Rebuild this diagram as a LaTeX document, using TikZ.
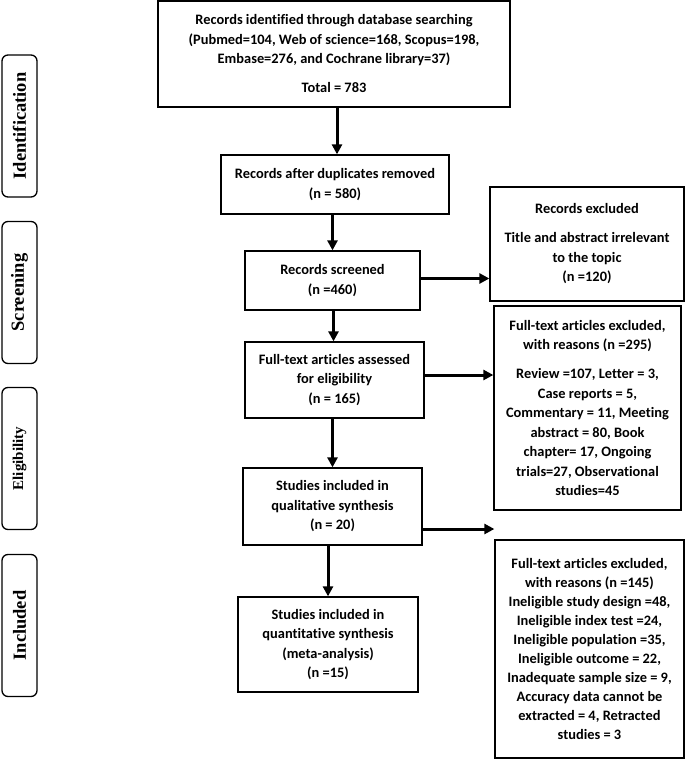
\documentclass[tikz,border=0pt]{standalone}
\usepackage{fontspec}
\setmainfont{Carlito}[RawFeature={-liga;-clig;-calt;-dlig;-rlig}]
\newfontfamily\sidefont{Liberation Serif}
\usetikzlibrary{arrows.meta}
\begin{document}
\begin{tikzpicture}[x=1pt,y=-1pt,
  box/.style={draw, line width=1.3pt, inner sep=0pt, align=center,
    font=\bfseries\fontsize{14.4}{19.5}\selectfont},
  side/.style={draw, line width=1.3pt, rounded corners=6pt, inner sep=0pt,
    rotate=90, minimum width=142pt, minimum height=35pt,
    font=\sidefont\bfseries\fontsize{18.5}{20}\selectfont},
  arr/.style={line width=3pt, -{Triangle[length=10pt,width=10pt]}}]
\useasboundingbox (0,0) rectangle (685,759);

% side labels
\node[side] (sid) at (19.5,126) {Identification};
\node[side] (ssc) at (19.5,292.5) {Screening};
\node[side, font=\sidefont\bfseries\fontsize{15}{17}\selectfont] (sel) at (19.5,458.5) {Eligibility};
\node[side] (sin) at (19.5,625.5) {Included};

% main boxes
\node[box, minimum width=352pt, minimum height=106pt] (b1) at (334,54)
  {Records identified through database searching\\
   (Pubmed=104, Web of science=168, Scopus=198,\\
   Embase=276, and Cochrane library=37)\\[9.5pt]
   Total = 783};
\node[box, minimum width=228pt, minimum height=59pt] (b2) at (335,184.5)
  {Records after duplicates removed\\(n = 580)};
\node[box, minimum width=175pt, minimum height=59pt] (b3) at (332.5,280.5)
  {Records screened\\(n =460)};
\node[box, minimum width=179pt, minimum height=76pt] (b4) at (334.5,380)
  {Full-text articles assessed\\for eligibility\\(n = 165)};
\node[box, minimum width=179pt, minimum height=77pt] (b5) at (332.5,506.5)
  {Studies included in\\qualitative synthesis\\(n = 20)};
\node[box, minimum width=180pt, minimum height=95pt] (b6) at (328,644.5)
  {Studies included in\\quantitative synthesis\\(meta-analysis)\\(n =15)};

% exclusion boxes
\node[box, minimum width=194pt, minimum height=114pt] (e1) at (587,244)
  {Records excluded\\[9.5pt]
   Title and abstract irrelevant\\to the topic\\(n =120)};
\node[box, minimum width=187pt, minimum height=204pt] (e2) at (587.5,408)
  {Full-text articles excluded,\\with reasons (n =295)\\[9.5pt]
   Review =107, Letter = 3,\\Case reports = 5,\\Commentary = 11, Meeting\\
   abstract = 80, Book\\chapter= 17, Ongoing\\trials=27, Observational\\studies=45};
\node[box, minimum width=189pt, minimum height=218pt, font=\bfseries\fontsize{14.4}{19.1}\selectfont] (e3) at (589.5,649)
  {Full-text articles excluded,\\with reasons (n =145)\\
   Ineligible study design =48,\\Ineligible index test =24,\\
   Ineligible population =35,\\Ineligible outcome = 22,\\
   Inadequate sample size = 9,\\Accuracy data cannot be\\
   extracted = 4, Retracted\\studies = 3};

% vertical arrows
\draw[arr] ([xshift=3pt]b1.south) -- ([xshift=3pt]b1.south |- b2.north);
\draw[arr] (b3.north |- b2.south) -- (b3.north);
\draw[arr] ([xshift=-1pt]b4.north |- b3.south) -- ([xshift=-1pt]b4.north);
\draw[arr] (b5.north |- b4.south) -- (b5.north);
\draw[arr] (b6.north |- b5.south) -- (b6.north);

% horizontal arrows
\draw[arr] ([yshift=2pt]b3.east) -- ([yshift=2pt]b3.east -| e1.west);
\draw[arr] ([yshift=5pt]b4.east) -- ([yshift=5pt]b4.east -| e2.west);
\draw[arr] ([yshift=-22.5pt]b5.east) -- ([yshift=-22.5pt]b5.east -| e3.west);
\end{tikzpicture}
\end{document}
